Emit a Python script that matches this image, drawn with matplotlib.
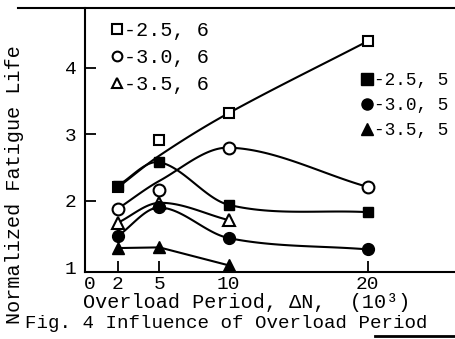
import numpy as np
import matplotlib
matplotlib.use('Agg')
from matplotlib import pyplot as plt
from matplotlib.lines import Line2D

plt.rcParams['font.family'] = ['Liberation Mono', 'DejaVu Sans Mono']

# overload period (10^3 cycles)
x4 = [2, 5, 10, 20]
x3 = [2, 5, 10]

# measured points, normalized fatigue life
sq6 = [2.21, 2.92, 3.32, 4.40]     # -2.5, 6  open square
ci6 = [1.88, 2.17, 2.80, 2.21]     # -3.0, 6  open circle
tr6 = [1.67, 1.97, 1.71]           # -3.5, 6  open triangle
sq5 = [2.23, 2.58, 1.94, 1.83]     # -2.5, 5  filled square
ci5 = [1.47, 1.90, 1.44, 1.27]     # -3.0, 5  filled circle
tr5 = [1.29, 1.30, 1.03]           # -3.5, 5  filled triangle

# hand-drawn trend curves (values where the curve crosses each period)
sq6_fit = [2.20, 2.68, 3.32, 4.40]
ci6_fit = [1.88, 2.30, 2.80, 2.21]

labels6 = ['-2.5, 6', '-3.0, 6', '-3.5, 6']
labels5 = ['-2.5, 5', '-3.0, 5', '-3.5, 5']


def smooth(xs, ys, n=40):
    # catmull-rom style hermite curve through the nodes
    xs = np.asarray(xs, float)
    ys = np.asarray(ys, float)
    m = np.zeros_like(ys)
    m[0] = (ys[1] - ys[0]) / (xs[1] - xs[0])
    m[-1] = (ys[-1] - ys[-2]) / (xs[-1] - xs[-2])
    for i in range(1, len(xs) - 1):
        m[i] = (ys[i + 1] - ys[i - 1]) / (xs[i + 1] - xs[i - 1])
    px, py = [], []
    for i in range(len(xs) - 1):
        h = xs[i + 1] - xs[i]
        t = np.linspace(0, 1, n)
        h00 = 2 * t**3 - 3 * t**2 + 1
        h10 = t**3 - 2 * t**2 + t
        h01 = -2 * t**3 + 3 * t**2
        h11 = t**3 - t**2
        px.append(xs[i] + t * h)
        py.append(h00 * ys[i] + h10 * h * m[i] + h01 * ys[i + 1] + h11 * h * m[i + 1])
    return np.concatenate(px), np.concatenate(py)


fig = plt.figure(figsize=(4.55, 3.39), dpi=100)
ax = fig.add_axes([85 / 455, 67 / 339, 370 / 455, 264 / 339])

lw = 1.5
ms = 7.5
for xs, ys in [(x4, sq6_fit), (x4, ci6_fit), (x3, tr6), (x4, sq5), (x4, ci5)]:
    cx, cy = smooth(xs, ys)
    ax.plot(cx, cy, color='k', lw=lw, zorder=2)
ax.plot(x3, tr5, color='k', lw=lw, zorder=2)

ax.plot(x4, sq6, 's', ms=ms, mfc='white', mec='k', mew=1.5, zorder=3)
ax.plot(x4, ci6, 'o', ms=ms + 1, mfc='white', mec='k', mew=1.5, zorder=3)
ax.plot(x3, tr6, '^', ms=ms + 1, mfc='white', mec='k', mew=1.5, zorder=3)
ax.plot(x4, sq5, 's', ms=ms, mfc='k', mec='k', zorder=4)
ax.plot(x4, ci5, 'o', ms=ms + 1, mfc='k', mec='k', zorder=4)
ax.plot(x3, tr5, '^', ms=ms + 1, mfc='k', mec='k', zorder=4)

ax.set_xlim(-0.36, 26.3)
ax.set_ylim(0.93, 4.90)
ax.spines['top'].set_visible(False)
ax.spines['right'].set_visible(False)
ax.spines['left'].set_linewidth(1.5)
ax.spines['bottom'].set_linewidth(1.5)

ax.set_xticks([0, 2, 5, 10, 20])
ax.set_xticklabels(['0', '2', '5', '10', '20'])
ax.set_yticks([1, 2, 3, 4])
ax.set_yticklabels(['1', '2', '3', '4'])
ax.tick_params(direction='in', length=8, width=1.3, labelsize=14, colors='k')
ax.tick_params(axis='x', pad=3)
ax.tick_params(axis='y', pad=6)
ax.xaxis.get_major_ticks()[0].tick1line.set_visible(False)
ax.yaxis.get_major_ticks()[0].tick1line.set_visible(False)

h6 = [Line2D([], [], ls='none', marker=m, ms=7, mfc='white', mec='k', mew=1.5)
      for m in ['s', 'o', '^']]
h5 = [Line2D([], [], ls='none', marker=m, ms=8, mfc='k', mec='k')
      for m in ['s', 'o', '^']]
leg1 = ax.legend(h6, labels6, loc='upper left', bbox_to_anchor=(111 / 455, 1 - 21 / 339),
                 bbox_transform=fig.transFigure, frameon=False, fontsize=14.5,
                 handlelength=0.6, handletextpad=0.05, labelspacing=0.4,
                 borderpad=0, borderaxespad=0)
ax.add_artist(leg1)
ax.legend(h5, labels5, loc='upper left', bbox_to_anchor=(362 / 455, 1 - 72 / 339),
          bbox_transform=fig.transFigure, frameon=False, fontsize=12.8,
          handlelength=0.6, handletextpad=0.05, labelspacing=0.45,
          borderpad=0, borderaxespad=0)

fig.text(15 / 455, 1 - 185 / 339, 'Normalized Fatigue Life', rotation=90,
         ha='center', va='center', fontsize=14.5)
fig.text(83 / 455, 1 - 303 / 339, 'Overload Period, ΔN,  (10³)',
         ha='left', va='center', fontsize=14.5)
fig.text(25 / 455, 1 - 323 / 339, 'Fig. 4 Influence of Overload Period',
         ha='left', va='center', fontsize=13.8)

# frame lines from the scanned page
fig.add_artist(Line2D([18 / 455, 1], [1 - 8 / 339, 1 - 8 / 339], color='k', lw=1.5))
fig.add_artist(Line2D([375 / 455, 1], [1 - 336 / 339, 1 - 336 / 339], color='k', lw=2))

fig.savefig('out.png', dpi=100)
